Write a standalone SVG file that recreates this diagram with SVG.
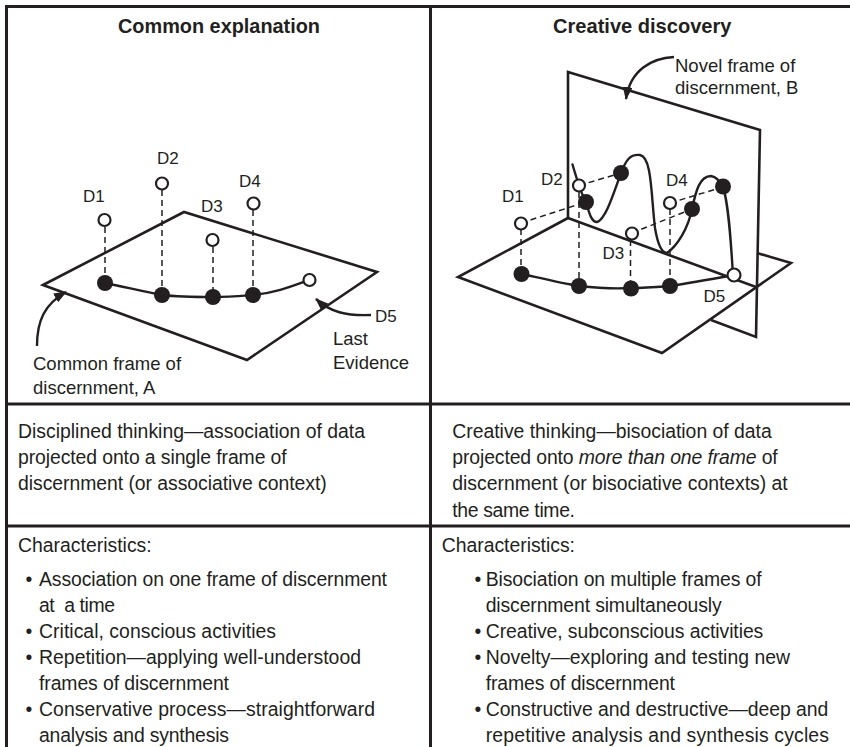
<svg xmlns="http://www.w3.org/2000/svg" width="850" height="747" viewBox="0 0 850 747">
  <defs>
    <style>
      .grid { stroke: #231f20; stroke-width: 3; fill: none; }
      .edge { stroke: #231f20; stroke-width: 2.6; fill: none; stroke-linejoin: miter; }
      .path { stroke: #231f20; stroke-width: 2.4; fill: none; stroke-linecap: round; }
      .proj { stroke: #231f20; stroke-width: 1.5; fill: none; stroke-dasharray: 6 4; }
      .lead { stroke: #231f20; stroke-width: 2.4; fill: none; marker-end: url(#arrowhead); }
      .open { fill: #ffffff; stroke: #231f20; stroke-width: 2.2; }
      .dot { fill: #231f20; }
      .title { font-family: "Liberation Sans", Arial, sans-serif; font-weight: bold; font-size: 21px; fill: #231f20; }
      .lbl { font-family: "Liberation Sans", Arial, sans-serif; font-size: 17px; fill: #231f20; }
      .cap { font-family: "Liberation Sans", Arial, sans-serif; font-size: 18.5px; fill: #231f20; }
      .body { font-family: "Liberation Sans", Arial, sans-serif; font-size: 19.4px; fill: #231f20; }
    </style>
    <marker id="arrowhead" viewBox="0 0 13 10" refX="12" refY="5" markerWidth="13" markerHeight="10" markerUnits="userSpaceOnUse" orient="auto">
      <path d="M0,0 L13,5 L0,10 z" fill="#231f20"/>
    </marker>
  </defs>

  <rect width="850" height="747" fill="#ffffff"/>

  <!-- table rules -->
  <g id="table">
    <path class="grid" d="M6.5,747 V6.5 H850"/>
    <path class="grid" d="M430.5,6.5 V747"/>
    <path class="grid" d="M6.5,404 H850"/>
    <path class="grid" d="M6.5,526 H850"/>
  </g>

  <!-- column titles -->
  <text id="title-common" class="title" x="118" y="33" textLength="202" lengthAdjust="spacingAndGlyphs">Common explanation</text>
  <text id="title-creative" class="title" x="553" y="33" textLength="178.5" lengthAdjust="spacingAndGlyphs">Creative discovery</text>

  <!-- ============ common explanation: single frame A ============ -->
  <g id="frame-a">
    <path class="edge" d="M43,285 L184,212 L377,272 L247,360 Z"/>
  </g>

  <g id="connectors-a">
    <path class="proj" d="M105,227 V276"/>
    <path class="proj" d="M162,190 V288"/>
    <path class="proj" d="M213,247 V290"/>
    <path class="proj" d="M253,210 V288"/>
    <path class="path" d="M105,283 C125,287 145,292 162,295 C180,297 200,297 213,297 C230,297 240,296 253,295 C275,293 290,287 309,280"/>
    <path class="lead" d="M37,346 C37,320 45,304 66,292"/>
    <path class="lead" d="M371,315 C346,316 330,312 316,299"/>
  </g>

  <g id="data-a">
    <g id="a-d1"><circle class="open" cx="104.5" cy="220" r="6"/><circle class="dot" cx="105" cy="283" r="8"/><text class="lbl" x="83" y="202">D1</text></g>
    <g id="a-d2"><circle class="open" cx="162" cy="183.5" r="6"/><circle class="dot" cx="162" cy="295" r="8"/><text class="lbl" x="157" y="164">D2</text></g>
    <g id="a-d3"><circle class="open" cx="212.5" cy="240" r="6"/><circle class="dot" cx="213" cy="297" r="8"/><text class="lbl" x="201" y="211.5">D3</text></g>
    <g id="a-d4"><circle class="open" cx="253.5" cy="203.5" r="6"/><circle class="dot" cx="253" cy="295" r="8"/><text class="lbl" x="239" y="186.5">D4</text></g>
    <g id="a-d5"><circle class="open" cx="309.5" cy="280" r="6"/><text class="lbl" x="375" y="321.5">D5</text></g>
  </g>

  <g id="labels-a">
    <text class="cap" x="33" y="369.5">Common frame of</text>
    <text class="cap" x="33" y="394">discernment, A</text>
    <text class="cap" x="333" y="345">Last</text>
    <text class="cap" x="333" y="368.5">Evidence</text>
  </g>

  <!-- ============ creative discovery: frames A and B ============ -->
  <g id="frame-a2">
    <path class="edge" d="M568,218 L458,277 L662,353 L791,263 L757,253"/>
  </g>
  <g id="frame-b">
    <path class="edge" d="M568,218 V72 L760,130 L756,337 L711,320"/>
    <path class="edge" d="M568,218 L756,287"/>
  </g>

  <g id="connectors-b">
    <!-- drops onto frame A -->
    <path class="proj" d="M521,229 V268"/>
    <path class="proj" d="M579,192 V280"/>
    <path class="proj" d="M630.5,240 V283"/>
    <path class="proj" d="M670,209 V280"/>
    <!-- projections onto frame B -->
    <path class="proj" d="M521,223 L586,202"/>
    <path class="proj" d="M579,185.5 L621,173"/>
    <path class="proj" d="M632,233 L692,209"/>
    <path class="proj" d="M670,203 L723,187"/>
    <!-- trajectory on frame A -->
    <path class="path" d="M522,274 C540,278 560,283 579,286 C597,288 615,289 631,288 C645,288 657,287 670,286 C690,283 712,279 734,275"/>
    <!-- trajectory on frame B -->
    <path class="path" d="M572.5,164.5 C576,176 580,192 586,202 C589,212 591,222 597,222 C606,219 614,192 621,173 C626,160 630,154 640,155 C652,157 651,195 655,228 C658,246 662,253 667,253 C677,246 688,229 692,209 C696,190 700,176 711,176 C717,177 720,181 723,187 C729,205 731,245 733,275"/>
    <path class="lead" d="M674,57 C652,58 630,70 626,99"/>
  </g>

  <g id="data-b">
    <g id="b-d1"><circle class="open" cx="521" cy="223.5" r="6"/><circle class="dot" cx="521.5" cy="274" r="8"/><circle class="dot" cx="586" cy="202" r="8"/><text class="lbl" x="502" y="201.5">D1</text></g>
    <g id="b-d2"><circle class="open" cx="579" cy="185.5" r="6"/><circle class="dot" cx="579" cy="286" r="8"/><circle class="dot" cx="621" cy="173" r="8"/><text class="lbl" x="541" y="185">D2</text></g>
    <g id="b-d3"><circle class="open" cx="632" cy="233.5" r="6"/><circle class="dot" cx="631" cy="288.5" r="8"/><circle class="dot" cx="692" cy="209" r="8"/><text class="lbl" x="602.5" y="258.5">D3</text></g>
    <g id="b-d4"><circle class="open" cx="670" cy="203" r="6"/><circle class="dot" cx="670" cy="286" r="8"/><circle class="dot" cx="723" cy="186.5" r="8"/><text class="lbl" x="666" y="186">D4</text></g>
    <g id="b-d5"><circle class="open" cx="734" cy="275" r="6.5"/><text class="lbl" x="703.5" y="301.5">D5</text></g>
  </g>

  <g id="labels-b">
    <text class="cap" x="675" y="71.5">Novel frame of</text>
    <text class="cap" x="675" y="93.5">discernment, B</text>
  </g>

  <!-- ============ descriptions ============ -->
  <g id="desc-common">
    <text class="body" x="18" y="438" textLength="347">Disciplined thinking—association of data</text>
    <text class="body" x="18" y="464" textLength="268.7">projected onto a single frame of</text>
    <text class="body" x="18" y="489.5" textLength="308.7">discernment (or associative context)</text>
  </g>
  <g id="desc-creative">
    <text class="body" x="452.3" y="438" textLength="319.4">Creative thinking—bisociation of data</text>
    <text class="body" x="452.3" y="464" textLength="325.4">projected onto <tspan font-style="italic">more than one frame</tspan> of</text>
    <text class="body" x="452.3" y="490" textLength="335.4">discernment (or bisociative contexts) at</text>
    <text class="body" x="452.3" y="516.5" textLength="122.7">the same time.</text>
  </g>

  <!-- ============ characteristics ============ -->
  <g id="traits-common">
    <text class="body" x="18" y="551.7" textLength="133.7">Characteristics:</text>
    <text class="body" x="25.5" y="586">•</text>
    <text class="body" x="39" y="586" textLength="348">Association on one frame of discernment</text>
    <text class="body" x="39" y="611.7" xml:space="preserve" textLength="76">at  a time</text>
    <text class="body" x="25.5" y="637.5">•</text>
    <text class="body" x="39" y="637.5" textLength="237">Critical, conscious activities</text>
    <text class="body" x="25.5" y="663.5">•</text>
    <text class="body" x="39" y="663.5" textLength="322">Repetition—applying well-understood</text>
    <text class="body" x="39" y="689.5" textLength="190">frames of discernment</text>
    <text class="body" x="25.5" y="715.5">•</text>
    <text class="body" x="39" y="715.5" textLength="336">Conservative process—straightforward</text>
    <text class="body" x="39" y="741.5" textLength="190">analysis and synthesis</text>
  </g>
  <g id="traits-creative">
    <text class="body" x="441.7" y="551.7" textLength="133.3">Characteristics:</text>
    <text class="body" x="474.5" y="586">•</text>
    <text class="body" x="485.7" y="586" textLength="276">Bisociation on multiple frames of</text>
    <text class="body" x="485.7" y="611.7" textLength="236">discernment simultaneously</text>
    <text class="body" x="474.5" y="637.5">•</text>
    <text class="body" x="485.7" y="637.5" textLength="277.6">Creative, subconscious activities</text>
    <text class="body" x="474.5" y="663.5">•</text>
    <text class="body" x="485.7" y="663.5" textLength="304.3">Novelty—exploring and testing new</text>
    <text class="body" x="485.7" y="689.5" textLength="189.3">frames of discernment</text>
    <text class="body" x="474.5" y="715.5">•</text>
    <text class="body" x="485.7" y="715.5" textLength="342.6">Constructive and destructive—deep and</text>
    <text class="body" x="485.7" y="741.5" textLength="343.3">repetitive analysis and synthesis cycles</text>
  </g>
</svg>
